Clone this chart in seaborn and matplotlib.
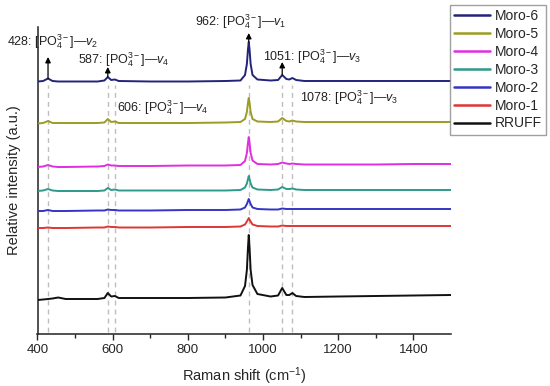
import pandas as pd
import matplotlib
matplotlib.use("Agg")
import matplotlib.pyplot as plt
import seaborn as sns

# --- Data (offsets in arbitrary units) ---
shift = [400, 415, 428, 440, 455, 475, 560, 578, 587, 596, 606, 616, 700, 800, 900,
         940, 952, 957, 960, 962, 964, 967, 972, 985, 1020, 1040, 1051, 1062, 1070,
         1078, 1088, 1110, 1200, 1300, 1400, 1500]

moro6 = [252.5, 253, 255.5, 253, 252.5, 252.5, 252.5, 253.5, 257, 254, 254.5, 253, 252.5, 252.5, 253,
         253.5, 259, 270, 285, 292, 285, 270, 259, 254.5, 253.5, 254, 259, 255, 254.5,
         256, 254, 253, 253, 253, 253, 253]
moro5 = [210.5, 211, 213, 211, 211, 211, 211, 211.5, 215, 212, 212.5, 211, 211, 211, 211.5,
         212, 215, 222, 231.5, 236, 231.5, 222, 215, 212.5, 212, 212.5, 216, 213, 212.5,
         213.5, 212.5, 212, 212, 212, 212, 212]
moro4 = [167, 167.5, 169, 167.5, 167, 167, 167.5, 168, 169.5, 168.5, 168.5, 168, 168, 168.5, 168.5,
         169, 173, 181, 191.5, 197, 191.5, 181, 173.5, 170, 169.5, 170, 171.5, 170.5, 170,
         170.5, 170, 169.5, 169.5, 169.5, 170, 170]
moro3 = [143, 143.5, 145, 143.5, 143, 143, 143, 143.5, 146, 144, 144.5, 143.5, 143.5, 143.5, 143.5,
         144, 146.5, 150.5, 155, 158, 155, 150.5, 146.5, 144.5, 144, 144.5, 147, 145, 145,
         145.5, 144.5, 144, 144, 144, 144, 144]
moro2 = [123, 123, 124, 123, 123, 123, 123.5, 123.5, 124.5, 124, 124, 123.5, 123.5, 124, 124,
         124.5, 126.5, 130, 133, 135, 133, 130, 126.5, 125, 124.5, 124.5, 125.5, 125, 125,
         125, 125, 125, 125, 125, 125, 125]
moro1 = [106, 106, 106.5, 106, 106, 106, 106.5, 106.5, 107.5, 107, 107, 106.5, 106.5, 107, 107,
         107.5, 109.5, 112.5, 114.5, 116, 114.5, 112.5, 109.5, 108, 107.5, 107.5, 108.5, 108, 108,
         108, 108, 108, 108, 108, 108, 108]
rruff = [34, 34.5, 35, 35.5, 36.5, 35, 35, 36, 41, 37.5, 38, 36, 36, 36, 36.5,
         38.5, 48, 64, 87, 99, 87, 64, 49, 40, 37.5, 38.5, 46, 39, 39,
         41, 38, 37, 37.5, 38, 38.5, 39]

samples = ['Moro-6', 'Moro-5', 'Moro-4', 'Moro-3', 'Moro-2', 'Moro-1', 'RRUFF']
spectra = [moro6, moro5, moro4, moro3, moro2, moro1, rruff]
colors = ['#23237a', '#9c9c22', '#e02ee0', '#2f9a8a', '#3535c2', '#e03535', '#111111']

bands = [428, 587, 606, 962, 1051, 1078]
band_text = [r'428: [PO$_4^{3-}$]—$v_2$', r'587: [PO$_4^{3-}$]—$v_4$', r'606: [PO$_4^{3-}$]—$v_4$',
             r'962: [PO$_4^{3-}$]—$v_1$', r'1051: [PO$_4^{3-}$]—$v_3$', r'1078: [PO$_4^{3-}$]—$v_3$']
arrow_bands = [428, 587, 962, 1051]

# --- Layout / style ---
text_xy = [(319, 292), (508, 274), (611, 226), (819, 312), (1000, 277), (1098, 236)]
arrow_tip = [277, 267, 301, 272]

df = pd.concat([pd.DataFrame({'shift': shift, 'intensity': s, 'sample': n})
                for n, s in zip(samples, spectra)], ignore_index=True)

sns.set_style('ticks')
plt.rcParams['font.family'] = ['Liberation Sans', 'DejaVu Sans']
plt.rcParams['mathtext.fontset'] = 'custom'
plt.rcParams['mathtext.rm'] = 'Liberation Sans'
plt.rcParams['mathtext.it'] = 'Liberation Sans:italic'

fig = plt.figure(figsize=(5.5, 3.86), dpi=100)
ax = fig.add_axes([37.5 / 550, 52 / 386, (451 - 37.5) / 550, 307 / 386])

# dashed guide lines
ax.vlines(bands, 2, 249, colors='#bdbdbd', linestyles=(0, (3.5, 3)), lw=1.0, zorder=1)

sns.lineplot(data=df, x='shift', y='intensity', hue='sample', hue_order=samples,
             palette=colors, lw=1.4, ax=ax, zorder=3)

top = dict(zip(shift, moro6))
for b, tip in zip(arrow_bands, arrow_tip):
    ax.annotate('', xy=(b, tip), xytext=(b, top[b]),
                arrowprops=dict(arrowstyle='-|>', color='black', lw=0.9, mutation_scale=8,
                                shrinkA=0, shrinkB=0), zorder=4)

for t, (tx, ty) in zip(band_text, text_xy):
    ax.text(tx, ty, t, fontsize=9, ha='left', va='center', color='#222222', clip_on=False)

ax.set_xlim(400, 1500)
ax.set_ylim(0, 307)
ax.set_xticks([400, 600, 800, 1000, 1200, 1400])
ax.set_xticks(range(500, 1500, 200), minor=True)
ax.set_yticks([])
ax.tick_params(axis='x', which='major', length=4, width=1, pad=3, labelsize=9.5)
ax.tick_params(axis='x', which='minor', length=3, width=1)
sns.despine(ax=ax)
for sp in ['left', 'bottom']:
    ax.spines[sp].set_linewidth(1.1)
    ax.spines[sp].set_color('#222222')

ax.set_xlabel('Raman shift (cm$^{-1}$)', fontsize=10.5, labelpad=7)
ax.set_ylabel('Relative intensity (a.u.)', fontsize=10.5, labelpad=12)

handles, labels = ax.get_legend_handles_labels()
ax.get_legend().remove()
leg = fig.legend(handles, labels, loc='upper left', bbox_to_anchor=(450 / 550, 1 - 5 / 386),
                 fontsize=10, frameon=True, fancybox=False, edgecolor='#888888',
                 handlelength=2.6, handletextpad=0.3, labelspacing=0.28, borderpad=0.3,
                 borderaxespad=0)
leg.get_frame().set_linewidth(1.0)
for h in leg.get_lines():
    h.set_linewidth(1.8)

fig.savefig('out.png', dpi=100)
